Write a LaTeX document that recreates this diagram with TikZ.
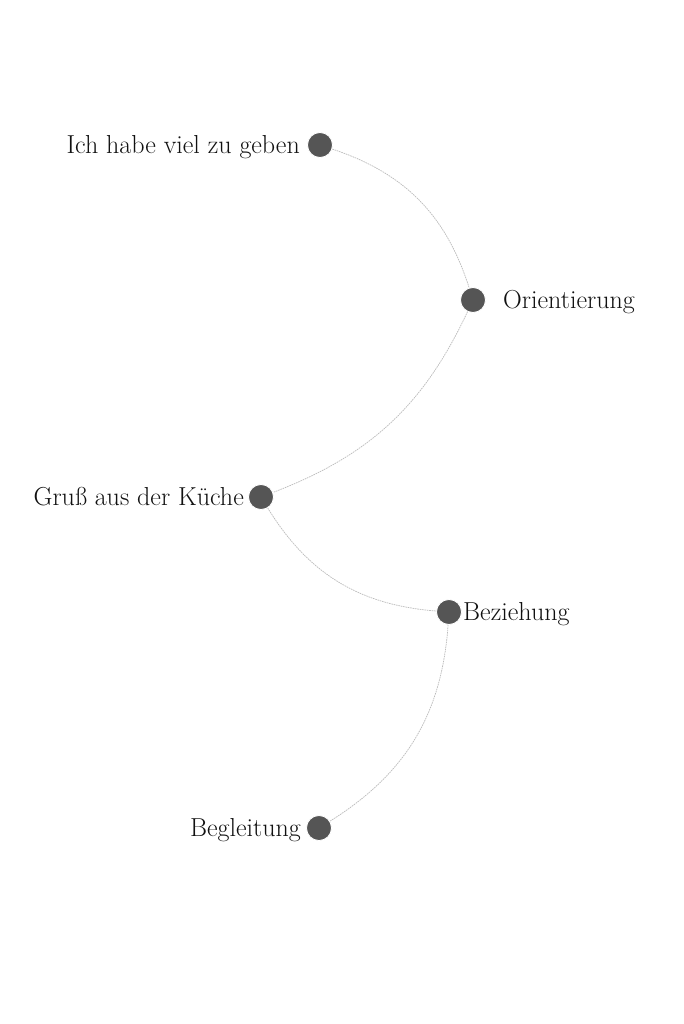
\documentclass[tikz,border=0pt]{standalone}
\usepackage{fontspec}
\definecolor{dotc}{HTML}{555555}
\definecolor{linkc}{HTML}{BBBBBB}
\definecolor{txtc}{HTML}{111111}
\begin{document}
\begin{tikzpicture}[x=1pt,y=-1pt,
  dot/.style={circle,fill=dotc,draw=white,line width=0.8pt,minimum size=25pt,inner sep=0pt},
  lab/.style={text=txtc,font=\fontsize{26}{30}\selectfont,inner sep=0pt},
  link/.style={draw=linkc,line width=0.7pt,dash pattern=on 1.6pt off 0.8pt}]
\useasboundingbox[fill=white] (0,0) rectangle (683,1024);
\node[dot] (n1) at (320,145) {};
\node[dot] (n2) at (473,300) {};
\node[dot] (n3) at (261,497) {};
\node[dot] (n4) at (449,612) {};
\node[dot] (n5) at (319,828) {};
\draw[link] (n1) to[bend left=27] (n2);
\draw[link] (n2) to[bend left=22] (n3);
\draw[link] (n3) to[bend right=27] (n4);
\draw[link] (n4) to[bend left=27] (n5);
\node[lab,anchor=base east] (l1) at (300,154) {Ich habe viel zu geben};
\node[lab,anchor=base west] (l2) at (503,308) {Orientierung};
\node[lab,anchor=base east] (l3) at (244,505) {Gruß aus der Küche};
\node[lab,anchor=base west] (l4) at (463,620) {Beziehung};
\node[lab,anchor=base east] (l5) at (301,836) {Begleitung};
\end{tikzpicture}
\end{document}
